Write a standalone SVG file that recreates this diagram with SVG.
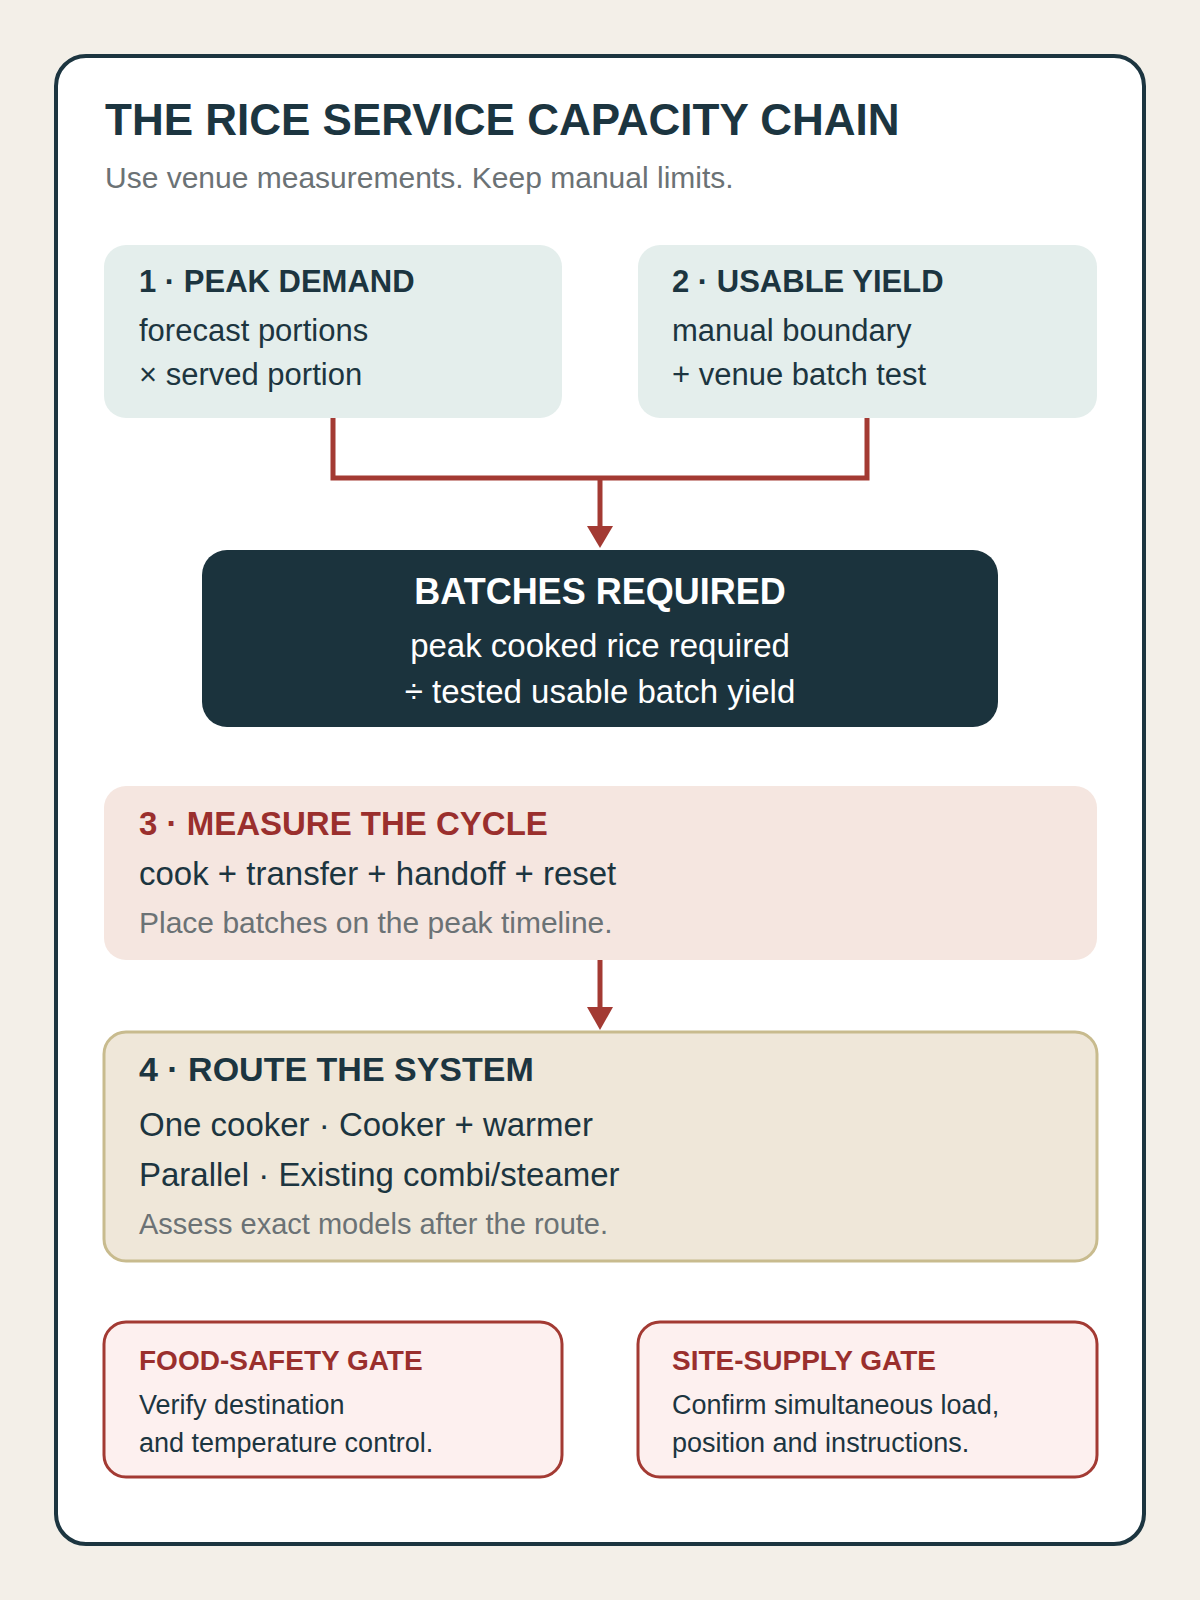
<svg xmlns="http://www.w3.org/2000/svg" width="1200" height="1600" viewBox="0 0 1200 1600">
<defs>
<style>
text{font-family:"Liberation Sans","Noto Sans",Arial,sans-serif;}
.h{font-weight:bold;fill:#1c3540;}
.d{fill:#1c3540;}
.g{fill:#6b7275;}
.r{font-weight:bold;fill:#9a2f2d;}
.w{fill:#ffffff;}
.conn{fill:none;stroke:#a33a33;stroke-width:5;}
</style>
<marker id="ah" viewBox="0 0 10 10" refX="9" refY="5" markerWidth="6" markerHeight="6" markerUnits="userSpaceOnUse" orient="auto"><path d="M0,0 L10,5 L0,10 z" fill="#a33a33"/></marker>
</defs>
<rect width="1200" height="1600" fill="#f3efe8"/>
<rect x="56" y="56" width="1088" height="1488" rx="30" fill="#ffffff" stroke="#1c3540" stroke-width="4"/>
<text x="105" y="135" font-size="44" class="h">THE RICE SERVICE CAPACITY CHAIN</text>
<text x="105" y="188" font-size="30" class="g">Use venue measurements. Keep manual limits.</text>
<g id="conns">
<path class="conn" d="M333,418 V478 H867 V418"/>
<path class="conn" d="M600,478 V532"/>
<path d="M587,526 L613,526 L600,548 z" fill="#a33a33"/>
<path class="conn" d="M600,960 V1012"/>
<path d="M587,1007 L613,1007 L600,1030 z" fill="#a33a33"/>
</g>
<g id="n1">
<rect x="104" y="245" width="458" height="173" rx="22" fill="#e4eeec"/>
<text x="139" y="292" font-size="31" class="h">1 · PEAK DEMAND</text>
<text x="139" y="341" font-size="31" class="d">forecast portions</text>
<text x="139" y="385" font-size="31" class="d">× served portion</text>
</g>
<g id="n2">
<rect x="638" y="245" width="459" height="173" rx="22" fill="#e4eeec"/>
<text x="672" y="292" font-size="31" class="h">2 · USABLE YIELD</text>
<text x="672" y="341" font-size="31" class="d">manual boundary</text>
<text x="672" y="385" font-size="31" class="d">+ venue batch test</text>
</g>
<g id="batches">
<rect x="202" y="550" width="796" height="177" rx="25" fill="#1b333d"/>
<text x="600" y="604" font-size="36" font-weight="bold" class="w" text-anchor="middle">BATCHES REQUIRED</text>
<text x="600" y="657" font-size="33" class="w" text-anchor="middle">peak cooked rice required</text>
<text x="600" y="703" font-size="33" class="w" text-anchor="middle">÷ tested usable batch yield</text>
</g>
<g id="n3">
<rect x="104" y="786" width="993" height="174" rx="22" fill="#f5e6e0"/>
<text x="139" y="835" font-size="33" class="r">3 · MEASURE THE CYCLE</text>
<text x="139" y="885" font-size="33" class="d">cook + transfer + handoff + reset</text>
<text x="139" y="933" font-size="30" class="g">Place batches on the peak timeline.</text>
</g>
<g id="n4">
<rect x="104" y="1032" width="993" height="229" rx="22" fill="#efe7d9" stroke="#c8bb8e" stroke-width="3"/>
<text x="139" y="1081" font-size="34" class="h">4 · ROUTE THE SYSTEM</text>
<text x="139" y="1136" font-size="33" class="d">One cooker  ·  Cooker + warmer</text>
<text x="139" y="1186" font-size="33" class="d">Parallel  ·  Existing combi/steamer</text>
<text x="139" y="1234" font-size="29" class="g">Assess exact models after the route.</text>
</g>
<g id="gate1">
<rect x="104" y="1322" width="458" height="155" rx="22" fill="#fdf0ef" stroke="#a33a33" stroke-width="3"/>
<text x="139" y="1370" font-size="28" class="r">FOOD-SAFETY GATE</text>
<text x="139" y="1414" font-size="27" class="d">Verify destination</text>
<text x="139" y="1452" font-size="27" class="d">and temperature control.</text>
</g>
<g id="gate2">
<rect x="638" y="1322" width="459" height="155" rx="22" fill="#fdf0ef" stroke="#a33a33" stroke-width="3"/>
<text x="672" y="1370" font-size="28" class="r">SITE-SUPPLY GATE</text>
<text x="672" y="1414" font-size="27" class="d">Confirm simultaneous load,</text>
<text x="672" y="1452" font-size="27" class="d">position and instructions.</text>
</g>
</svg>
